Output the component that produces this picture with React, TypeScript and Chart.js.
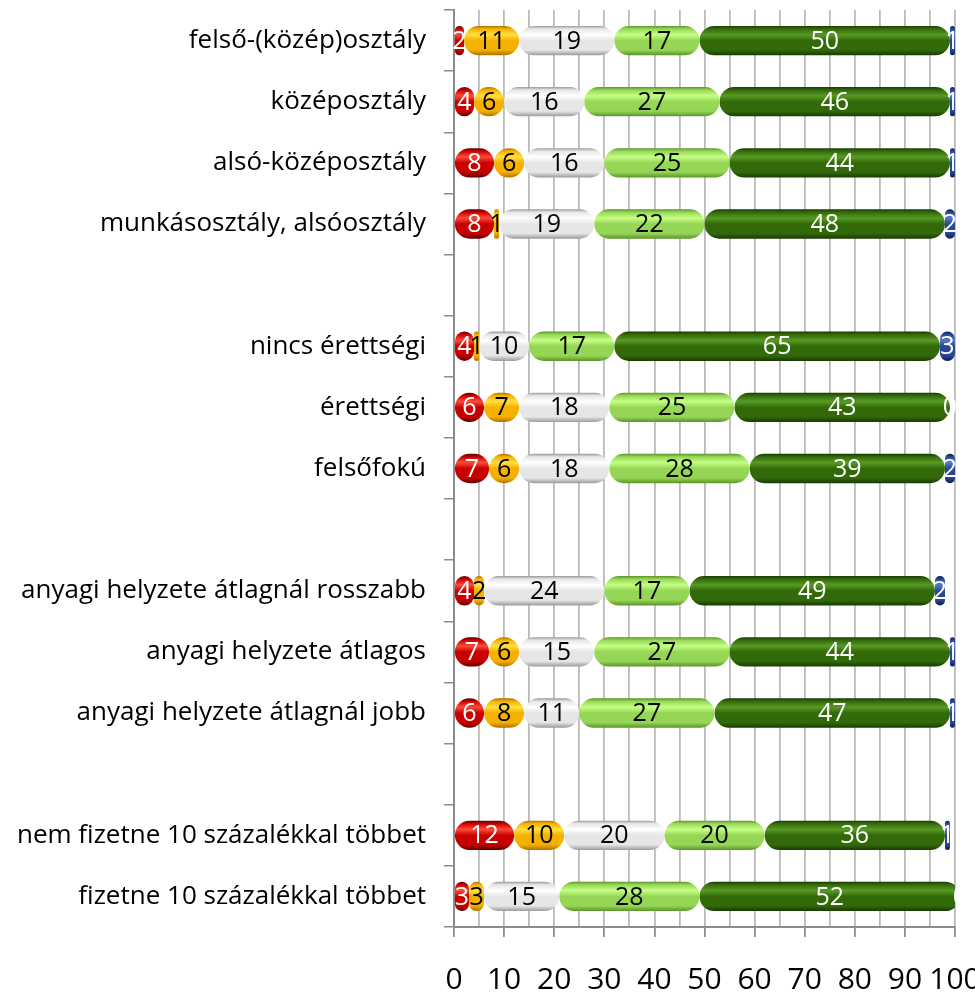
import React, { useEffect, useRef } from "react";
import { Chart, registerables } from "chart.js";

Chart.register(...registerables);

const categories = [
  "felső-(közép)osztály",
  "középosztály",
  "alsó-középosztály",
  "munkásosztály, alsóosztály",
  "",
  "nincs érettségi",
  "érettségi",
  "felsőfokú",
  "",
  "anyagi helyzete átlagnál rosszabb",
  "anyagi helyzete átlagos",
  "anyagi helyzete átlagnál jobb",
  "",
  "nem fizetne 10 százalékkal többet",
  "fizetne 10 százalékkal többet",
];

const redValues = [2, 4, 8, 8, null, 4, 6, 7, null, 4, 7, 6, null, 12, 3];
const yellowValues = [11, 6, 6, 1, null, 1, 7, 6, null, 2, 6, 8, null, 10, 3];
const whiteValues = [19, 16, 16, 19, null, 10, 18, 18, null, 24, 15, 11, null, 20, 15];
const lightGreenValues = [17, 27, 25, 22, null, 17, 25, 28, null, 17, 27, 27, null, 20, 28];
const darkGreenValues = [50, 46, 44, 48, null, 65, 43, 39, null, 49, 44, 47, null, 36, 52];
const blueValues = [1, 1, 1, 2, null, 3, 0, 2, null, 2, 1, 1, null, 1, 0];

const xTicks = [0, 10, 20, 30, 40, 50, 60, 70, 80, 90, 100];

type Palette = { dark: string; base: string; light: string; text: string };
const palettes: Palette[] = [
  { dark: "#5e0000", base: "#c80000", light: "#ff4a3a", text: "#ffffff" },
  { dark: "#b07000", base: "#f5b000", light: "#ffe040", text: "#000000" },
  { dark: "#9a9a9a", base: "#e6e6e6", light: "#ffffff", text: "#000000" },
  { dark: "#5a9428", base: "#96d656", light: "#c4ff84", text: "#000000" },
  { dark: "#1a3a02", base: "#326a0a", light: "#589a24", text: "#ffffff" },
  { dark: "#0c1c50", base: "#284896", light: "#5878cc", text: "#ffffff" },
];

const CAT_PCT = 1;
const BAR_PCT = 0.48;

function makeBg(p: Palette) {
  return (ctx: any) => {
    const chart = ctx.chart;
    const y = chart.scales?.y;
    if (!y || ctx.dataIndex === undefined) return p.base;
    const c = y.getPixelForValue(ctx.dataIndex);
    const row = Math.abs(y.getPixelForValue(1) - y.getPixelForValue(0));
    if (!Number.isFinite(c) || !Number.isFinite(row) || row <= 0) return p.base;
    const h = row * CAT_PCT * BAR_PCT;
    const top = c - h / 2;
    const g = chart.ctx.createLinearGradient(0, top, 0, top + h);
    g.addColorStop(0, p.dark);
    g.addColorStop(0.1, p.base);
    g.addColorStop(0.3, p.light);
    g.addColorStop(0.5, p.base);
    g.addColorStop(0.82, p.base);
    g.addColorStop(1, p.dark);
    return g;
  };
}

const labelPlugin = {
  id: "segLabels",
  afterDatasetsDraw(chart: any) {
    const ctx = chart.ctx;
    ctx.save();
    ctx.font = "25px 'Open Sans', sans-serif";
    ctx.textAlign = "center";
    ctx.textBaseline = "middle";
    chart.data.datasets.forEach((ds: any, di: number) => {
      const meta = chart.getDatasetMeta(di);
      meta.data.forEach((el: any, i: number) => {
        const v = ds.data[i];
        if (v === null || v === undefined) return;
        const props = el.getProps(["x", "y", "base"], true);
        const cx = (props.x + props.base) / 2;
        ctx.fillStyle = palettes[di].text;
        ctx.fillText(String(v), cx, props.y + 1);
      });
    });
    ctx.restore();
  },
};

export default function App() {
  const ref = useRef<HTMLCanvasElement | null>(null);
  useEffect(() => {
    document.body.style.margin = "0";
    const cv = ref.current;
    if (!cv) return;
    const sets = [redValues, yellowValues, whiteValues, lightGreenValues, darkGreenValues, blueValues];
    const chart = new Chart(cv, {
      type: "bar",
      data: {
        labels: categories,
        datasets: sets.map((d, i) => ({
          data: d,
          backgroundColor: makeBg(palettes[i]),
          borderWidth: 0,
          borderRadius: { topLeft: 15, topRight: 15, bottomLeft: 15, bottomRight: 15 },
          borderSkipped: false,
          inflateAmount: 0,
          categoryPercentage: CAT_PCT,
          barPercentage: BAR_PCT,
        })) as any,
      },
      options: {
        indexAxis: "y",
        animation: false,
        responsive: false,
        maintainAspectRatio: false,
        layout: { padding: { top: 10, right: 20, left: 0, bottom: 0 } },
        plugins: { legend: { display: false }, tooltip: { enabled: false } },
        scales: {
          x: {
            stacked: true,
            min: 0,
            max: 100,
            afterFit: (s: any) => {
              s.height = 70;
              s.paddingLeft = 0;
              s.paddingRight = 0;
            },
            afterBuildTicks: (s: any) => {
              const t: any[] = [];
              for (let v = 0; v <= 100; v += 5) t.push({ value: v });
              s.ticks = t;
            },
            ticks: {
              autoSkip: false,
              maxRotation: 0,
              padding: 25,
              color: "#000000",
              font: { size: 30, family: "'Open Sans', sans-serif" },
              callback: (v: any) => (xTicks.includes(Number(v)) ? String(v) : ""),
            },
            grid: {
              color: "#bababa",
              lineWidth: 1.8,
              tickLength: 10,
              tickColor: (c: any) => (c.tick && c.tick.value % 10 === 0 ? "#8c8c8c" : "rgba(0,0,0,0)"),
            },
            border: { color: "#8c8c8c", width: 2 },
          },
          y: {
            stacked: true,
            afterFit: (s: any) => {
              s.width = 454;
              s.paddingTop = 0;
              s.paddingBottom = 0;
            },
            ticks: {
              autoSkip: false,
              padding: 18,
              color: "#000000",
              font: { size: 26, family: "'Open Sans', sans-serif" },
            },
            grid: {
              drawOnChartArea: false,
              offset: true,
              tickLength: 10,
              color: "#8c8c8c",
              lineWidth: 1.5,
            },
            border: { color: "#8c8c8c", width: 2 },
          },
        },
      },
      plugins: [labelPlugin],
    });
    return () => chart.destroy();
  }, []);
  return (
    <div style={{ position: "absolute", left: 0, top: 0, width: 975, height: 997 }}>
      <canvas ref={ref} width={975} height={997} style={{ width: 975, height: 997 }} />
    </div>
  );
}
